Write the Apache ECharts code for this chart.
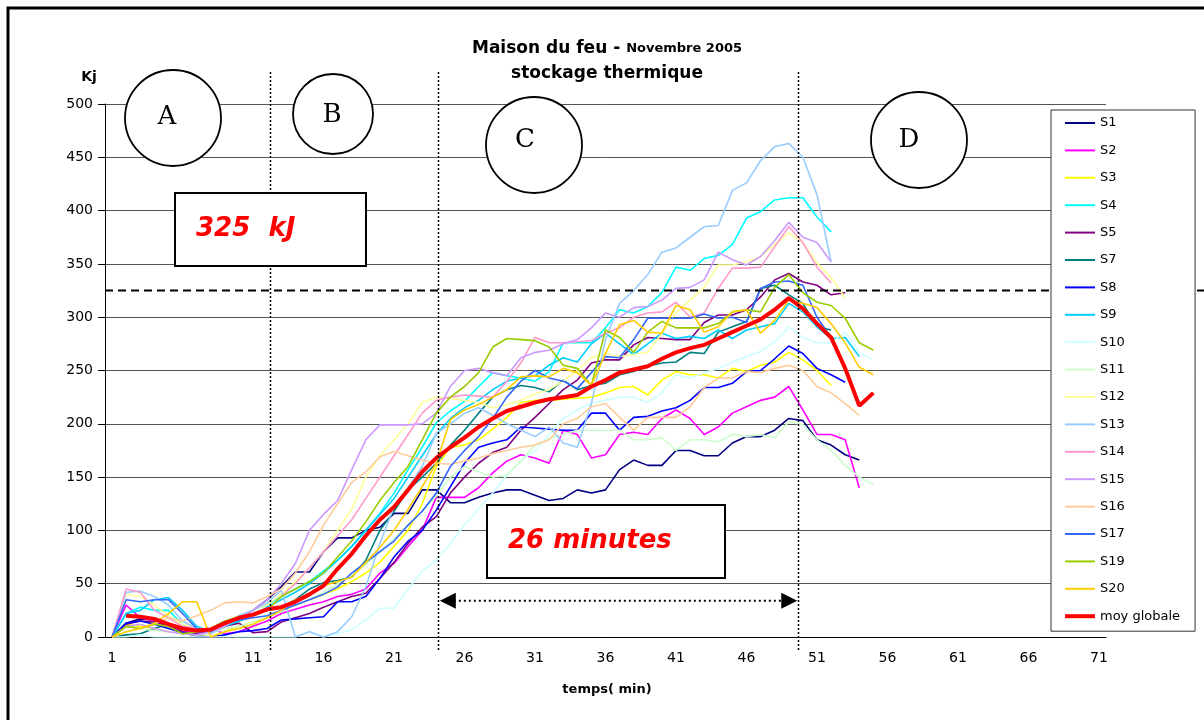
<!DOCTYPE html>
<html>
<head>
<meta charset="utf-8">
<script src="https://cdn.jsdelivr.net/npm/echarts@6/dist/echarts.min.js"></script>
<style>
  html, body { margin: 0; padding: 0; background: #fff; }
  #main { width: 1204px; height: 720px; }
</style>
</head>
<body>
<div id="main"></div>
<script>
var dom = document.getElementById('main');
var myChart = echarts.init(dom, null, {renderer: 'canvas'});

// temps (min)
var categories = ['1','2','3','4','5','6','7','8','9','10','11','12','13','14','15','16','17','18','19','20',
  '21','22','23','24','25','26','27','28','29','30','31','32','33','34','35','36','37','38','39','40',
  '41','42','43','44','45','46','47','48','49','50','51','52','53','54','55','56','57','58','59','60',
  '61','62','63','64','65','66','67','68','69','70','71'];

// stockage thermique (kJ) par séance
var s1 = [0,13,17,16,12,8,5,5,10,18,25,35,47,61,61,80,93,93,100,103,116,116,138,138,126,126,131,135,138,138,133,128,130,138,135,138,157,166,161,161,175,175,170,170,182,188,188,194,205,203,185,180,171,166];
var s2 = [0,30,18,15,10,5,5,8,3,5,10,15,22,26,30,33,38,40,45,60,69,85,100,131,131,131,140,154,165,171,168,163,194,190,168,171,190,192,190,205,213,205,190,197,210,216,222,225,235,213,190,190,185,140];
var s3 = [0,12,10,8,5,3,2,0,5,10,14,18,25,30,35,40,45,52,60,70,85,100,125,160,178,180,185,195,206,220,222,222,223,224,225,229,234,235,227,241,249,246,246,243,252,249,255,258,267,260,250,236];
var s4 = [0,22,28,25,25,12,5,8,15,20,25,30,38,45,52,62,72,85,100,116,135,157,178,201,212,221,235,248,245,243,240,249,276,276,276,290,307,304,310,323,347,344,355,358,368,393,399,410,412,412,394,380];
var s5 = [0,12,15,14,10,5,3,5,10,13,4,5,14,18,22,28,33,38,41,55,70,88,103,113,135,150,163,173,178,194,206,219,232,241,257,260,260,274,281,280,279,279,295,302,302,307,319,335,341,333,330,321,323];
var s7 = [0,2,3,8,12,8,6,5,10,15,20,25,28,35,45,51,53,56,72,100,118,138,150,163,180,194,210,225,232,236,234,230,241,232,236,238,246,249,254,257,258,267,266,286,291,296,327,330,321,313,291,288];
var s8 = [0,13,15,12,8,4,1,0,2,5,6,8,16,17,18,19,33,33,38,55,75,90,100,119,141,163,178,182,185,197,196,195,194,194,210,210,194,206,207,212,215,222,234,234,238,249,250,261,273,266,252,246,239];
var s9 = [0,22,25,35,37,25,10,5,10,15,20,28,35,42,50,60,72,85,100,115,130,150,170,190,205,215,222,232,240,243,245,255,262,258,275,285,275,265,275,285,280,282,280,288,280,288,291,294,313,305,291,280,281,263];
var s10 = [0,0,2,0,0,0,0,0,0,0,0,0,0,0,5,0,3,7,16,27,27,45,62,72,88,105,120,135,152,165,175,190,205,213,219,222,225,225,220,229,246,243,248,252,258,263,268,277,291,281,276,276,286,267,260];
var s11 = [0,5,8,6,5,3,2,3,8,10,14,18,24,30,35,42,50,58,68,80,92,105,118,132,150,160,155,150,152,165,180,186,190,194,194,194,194,185,185,187,175,185,185,183,190,188,190,187,202,199,185,175,161,150,143];
var s12 = [0,40,38,30,20,12,8,5,15,20,25,30,40,52,65,80,100,120,150,170,185,200,220,225,224,222,220,215,218,222,228,232,240,250,262,266,263,265,267,285,304,316,328,349,349,352,357,368,379,370,351,337,318];
var s13 = [0,42,43,38,30,15,8,3,10,20,25,32,44,0,5,0,5,19,47,88,122,140,160,191,200,210,215,208,200,194,188,197,182,178,219,279,313,325,340,361,365,375,385,386,419,426,447,460,463,450,415,352];
var s14 = [0,45,42,25,18,10,8,5,12,18,20,25,38,50,65,80,95,110,130,150,170,190,210,222,225,227,226,225,240,257,281,276,276,277,278,285,290,300,304,305,314,300,304,327,346,346,347,366,385,370,347,332];
var s15 = [0,10,12,8,5,3,2,5,10,18,25,35,50,69,100,115,128,157,185,199,199,199,200,210,235,250,252,248,245,262,267,269,275,279,290,304,300,309,310,316,327,328,335,361,354,349,357,372,389,375,370,352];
var s16 = [0,10,8,12,18,15,20,25,32,33,32,38,45,60,80,105,125,145,155,169,174,170,166,163,162,165,168,172,175,178,180,185,200,205,216,219,206,194,206,206,206,216,234,243,243,249,248,252,255,250,235,229,219,208];
var s17 = [0,35,33,35,35,22,8,5,14,16,18,20,25,30,35,40,47,60,70,80,90,105,118,135,160,175,188,205,225,240,250,243,240,233,248,263,262,279,299,299,299,299,303,299,300,295,327,333,334,330,300,281];
var s19 = [0,10,8,12,10,3,5,8,15,18,20,25,38,45,52,60,75,90,108,128,145,160,185,210,225,235,248,272,280,279,278,272,255,252,236,288,281,267,286,296,290,290,290,294,305,307,305,328,340,323,314,311,299,276,269];
var s20 = [0,5,8,13,22,33,33,0,5,8,12,18,25,35,40,48,52,56,70,84,100,120,141,163,204,213,218,225,232,244,245,244,252,248,236,266,293,297,286,285,311,307,286,291,305,307,285,297,316,313,309,294,276,253,246];
var moyGlobale = [null,20,19,17,12,8,6,7,13,18,21,26,28,33,40,48,64,78,95,110,122,138,155,168,178,187,197,205,212,216,220,223,225,227,235,241,248,251,254,261,267,271,274,280,286,292,298,307,318,308,294,281,252,217,229];

var seriesNames = ['S1','S2','S3','S4','S5','S7','S8','S9','S10','S11','S12','S13','S14','S15','S16','S17','S19','S20','moy globale'];
var seriesData = [s1,s2,s3,s4,s5,s7,s8,s9,s10,s11,s12,s13,s14,s15,s16,s17,s19,s20,moyGlobale];
var seriesColors = ['#000080','#FF00FF','#FFFF00','#00FFFF','#800080','#008080','#0000FF','#00CCFF','#CCFFFF','#CCFFCC',
  '#FFFF99','#99CCFF','#FF99CC','#CC99FF','#FFCC99','#3366FF','#99CC00','#FFCC00','#FF0000'];

// annotations (minutes / kJ)
var phaseLines = [12.2, 24.1, 49.65];
var seuilKj = 325;
var dureeFleche = [24.25, 49.6];
var flecheKj = 34;

var font = 'DejaVu Sans';

var series = seriesNames.map(function (name, i) {
    var isMoy = name === 'moy globale';
    return {
        name: name,
        type: 'line',
        data: seriesData[i],
        symbol: 'none',
        showSymbol: false,
        connectNulls: false,
        color: seriesColors[i],
        lineStyle: {width: isMoy ? 4 : 1.6, color: seriesColors[i]},
        z: isMoy ? 3 : 2,
        silent: true
    };
});

var legendData = seriesNames.map(function (name) {
    return name === 'moy globale'
        ? {name: name, lineStyle: {width: 4}}
        : {name: name, lineStyle: {width: 2}};
});

option = {
    animation: false,
    backgroundColor: '#fff',
    grid: {left: 105, right: 98, top: 104, bottom: 83},
    legend: {
        data: legendData,
        orient: 'vertical',
        left: 1051,
        top: 110,
        itemWidth: 30,
        itemHeight: 14,
        itemGap: 13.4,
        padding: [6, 15, 8, 12],
        borderColor: '#333',
        borderWidth: 1,
        backgroundColor: '#fff',
        itemStyle: {opacity: 0},
        textStyle: {fontFamily: font, fontSize: 13, color: '#000', lineHeight: 14},
        z: 10
    },
    xAxis: [{
        type: 'category',
        data: categories,
        boundaryGap: true,
        axisLine: {lineStyle: {color: '#000', width: 1}},
        axisTick: {interval: 0, length: 6, lineStyle: {color: '#000'}},
        axisLabel: {interval: 4, fontFamily: font, fontSize: 14, color: '#000', margin: 14},
        splitLine: {show: false}
    }, {
        type: 'value',
        min: 0.5,
        max: 71.5,
        show: false
    }],
    yAxis: {
        type: 'value',
        min: 0,
        max: 500,
        interval: 50,
        axisLine: {show: true, lineStyle: {color: '#000'}},
        axisTick: {show: true, length: 7, lineStyle: {color: '#000'}},
        axisLabel: {fontFamily: font, fontSize: 14, color: '#000', margin: 12},
        splitLine: {lineStyle: {color: '#555', width: 1}}
    },
    series: series
};

myChart.setOption(option);

// annotations placed through the axes
function px(minute) { return myChart.convertToPixel({xAxisIndex: 1}, minute); }
function py(kj) { return myChart.convertToPixel({yAxisIndex: 0}, kj); }

var graphics = [];
// cadre
graphics.push({type: 'rect', shape: {x: 8, y: 8, width: 1300, height: 800},
    style: {fill: 'none', stroke: '#000', lineWidth: 3}, z: 20});
// titre
graphics.push({type: 'text', x: 607, y: 36, z: 20, style: {
    text: '{a|Maison du feu - }{b|Novembre 2005}\n{a|stockage thermique}',
    align: 'center', verticalAlign: 'top', lineHeight: 25,
    rich: {
        a: {fontFamily: font, fontSize: 17, fontWeight: 'bold', fill: '#000', lineHeight: 25},
        b: {fontFamily: font, fontSize: 13, fontWeight: 'bold', fill: '#000', lineHeight: 25}
    }
}});
graphics.push({type: 'text', x: 89, y: 77, z: 20, style: {text: 'Kj', align: 'center', verticalAlign: 'middle',
    fontFamily: font, fontSize: 14, fontWeight: 'bold', fill: '#000'}});
graphics.push({type: 'text', x: 607, y: 690, z: 20, style: {text: 'temps( min)', align: 'center', verticalAlign: 'middle',
    fontFamily: font, fontSize: 13, fontWeight: 'bold', fill: '#000'}});

// lignes de phase
phaseLines.forEach(function (m) {
    var x = Math.round(px(m)) + 0.5;
    graphics.push({type: 'line', z: 6, shape: {x1: x, y1: 72, x2: x, y2: 650},
        style: {stroke: '#000', lineWidth: 1.5, lineDash: [2, 2]}});
});
// seuil 325 kJ
var ys = py(seuilKj);
graphics.push({type: 'line', z: 6, shape: {x1: 105, y1: ys, x2: 1204, y2: ys},
    style: {stroke: '#000', lineWidth: 2, lineDash: [8, 5]}});

// cercles A B C D
[{t: 'A', x: 173, y: 118, r: 48, tx: 167, ty: 117},
 {t: 'B', x: 333, y: 114, r: 40, tx: 332, ty: 115},
 {t: 'C', x: 534, y: 145, r: 48, tx: 525, ty: 140},
 {t: 'D', x: 919, y: 140, r: 48, tx: 909, ty: 140}].forEach(function (c) {
    graphics.push({type: 'circle', z: 7, shape: {cx: c.x, cy: c.y, r: c.r},
        style: {fill: '#fff', stroke: '#000', lineWidth: 1.8}});
    graphics.push({type: 'text', z: 8, x: c.tx, y: c.ty, style: {text: c.t, align: 'center', verticalAlign: 'middle',
        fontFamily: 'DejaVu Serif', fontSize: 26, fill: '#000'}});
});

// encadrés
[{t: '325  kJ', x: 175, y: 193, w: 191, h: 73},
 {t: '26 minutes', x: 487, y: 505, w: 238, h: 73}].forEach(function (b) {
    graphics.push({type: 'rect', z: 7, shape: {x: b.x, y: b.y, width: b.w, height: b.h},
        style: {fill: '#fff', stroke: '#000', lineWidth: 2}});
    graphics.push({type: 'text', z: 8, x: b.x + 21, y: b.y + b.h / 2, style: {text: b.t, align: 'left', verticalAlign: 'middle',
        fontFamily: font, fontSize: 26, fontWeight: 'bold', fontStyle: 'italic', fill: '#FF0000'}});
});

// flèche de durée
var xa = px(dureeFleche[0]), xb = px(dureeFleche[1]), yf = py(flecheKj);
graphics.push({type: 'line', z: 7, shape: {x1: xa + 14, y1: yf, x2: xb - 14, y2: yf},
    style: {stroke: '#000', lineWidth: 2, lineDash: [2, 3]}});
graphics.push({type: 'polygon', z: 7, shape: {points: [[xa, yf], [xa + 16, yf - 8], [xa + 16, yf + 8]]},
    style: {fill: '#000'}});
graphics.push({type: 'polygon', z: 7, shape: {points: [[xb, yf], [xb - 16, yf - 8], [xb - 16, yf + 8]]},
    style: {fill: '#000'}});

myChart.setOption({graphic: graphics});
</script>
</body>
</html>
